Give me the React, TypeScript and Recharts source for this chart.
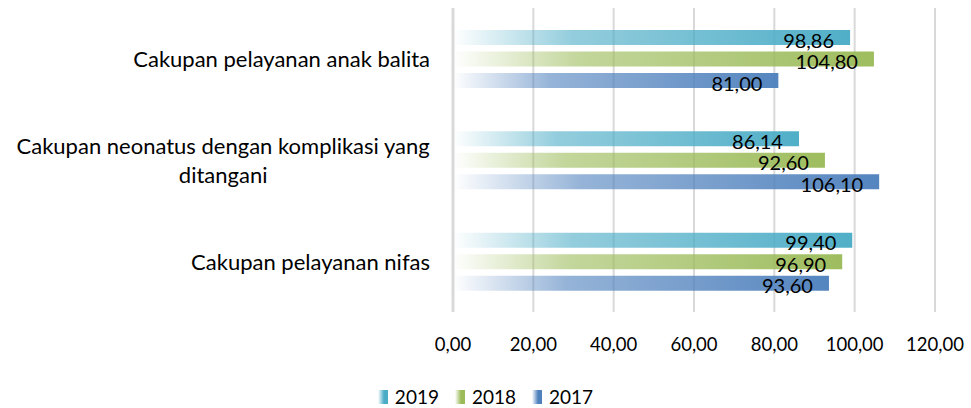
import React from 'react';
import { BarChart, Bar, XAxis, YAxis, CartesianGrid, LabelList } from 'recharts';

const categories = [
  'Cakupan pelayanan anak balita',
  'Cakupan neonatus dengan komplikasi yang ditangani',
  'Cakupan pelayanan nifas',
];
const categoryLines = [
  ['Cakupan pelayanan anak balita'],
  ['Cakupan neonatus dengan komplikasi yang', 'ditangani'],
  ['Cakupan pelayanan nifas'],
];
const values2019 = [98.86, 86.14, 99.4];
const values2018 = [104.8, 92.6, 96.9];
const values2017 = [81.0, 106.1, 93.6];
const xTicks = [0, 20, 40, 60, 80, 100, 120];
const seriesNames = ['2019', '2018', '2017'];
const seriesColors = ['#4bacc6', '#9bbb59', '#4f81bd'];

const data = categories.map((c, i) => ({
  name: c,
  y2019: values2019[i],
  y2018: values2018[i],
  y2017: values2017[i],
}));

const FONT = 'Lato, "Open Sans", sans-serif';
const FS = 18.5;
const CAT_FS = 22;
const LABEL_FS = 20;

const fmt = (v: number) => v.toFixed(2).replace('.', ',');

let ctx: CanvasRenderingContext2D | null = null;
const measure = (s: string) => {
  if (!ctx) {
    const c = document.createElement('canvas');
    ctx = c.getContext('2d');
  }
  if (!ctx) return s.length * 10;
  ctx.font = `${CAT_FS}px Lato`;
  return ctx.measureText(s).width;
};

const CatTick = (props: any) => {
  const { x, y, payload } = props;
  const idx = categories.indexOf(payload.value);
  const lines = idx >= 0 ? categoryLines[idx] : [String(payload.value)];
  const maxW = Math.max(...lines.map(measure));
  const lh = 29;
  const y0 = y - ((lines.length - 1) * lh) / 2;
  return (
    <g>
      {lines.map((l, i) => (
        <text
          key={i}
          x={x - maxW / 2}
          y={y0 + i * lh}
          textAnchor="middle"
          dominantBaseline="central"
          fontFamily={FONT}
          fontSize={CAT_FS}
          fill="#000"
        >
          {l}
        </text>
      ))}
    </g>
  );
};

const BarLabel = (props: any) => {
  const { x, y, width, height, value } = props;
  return (
    <text
      x={x + width - 16}
      y={y + height / 2 + 2}
      textAnchor="end"
      dominantBaseline="central"
      fontFamily={FONT}
      fontSize={LABEL_FS}
      fill="#000"
    >
      {fmt(value)}
    </text>
  );
};

const keys = ['y2019', 'y2018', 'y2017'];

export default function App() {
  return (
    <div style={{ position: 'absolute', left: 0, top: 0, width: 971, height: 408, background: '#fff' }}>
      <BarChart
        width={971}
        height={408}
        data={data}
        layout="vertical"
        margin={{ top: 8, right: 36, left: 0, bottom: 0 }}
        barSize={15}
        barGap={6.5}
      >
        <defs>
          {seriesColors.map((c, i) => (
            <linearGradient key={i} id={`grad${i}`} x1="0" y1="0" x2="1" y2="0">
              <stop offset="0" stopColor={c} stopOpacity={0} />
              <stop offset="0.3" stopColor={c} stopOpacity={0.6} />
              <stop offset="1" stopColor={c} stopOpacity={0.97} />
            </linearGradient>
          ))}
        </defs>
        <CartesianGrid horizontal={false} stroke="#d9d9d9" strokeWidth={2} />
        <XAxis
          type="number"
          domain={[0, 120]}
          ticks={xTicks}
          axisLine={false}
          tickLine={false}
          tickSize={0}
          tickMargin={26}
          height={96}
          tickFormatter={fmt}
          tick={{ fontFamily: FONT, fontSize: FS, fill: '#000' }}
          interval={0}
        />
        <YAxis
          type="category"
          dataKey="name"
          width={453}
          axisLine={{ stroke: '#d9d9d9', strokeWidth: 3 }}
          tickLine={false}
          tickSize={0}
          tickMargin={23}
          tick={<CatTick />}
          interval={0}
        />
        {keys.map((k, i) => (
          <Bar key={k} dataKey={k} name={seriesNames[i]} fill={`url(#grad${i})`} isAnimationActive={false}>
            <LabelList dataKey={k} content={<BarLabel />} />
          </Bar>
        ))}
      </BarChart>
      <div
        style={{
          position: 'absolute',
          left: 0,
          top: 386,
          width: 971,
          display: 'flex',
          justifyContent: 'center',
          alignItems: 'center',
          fontFamily: FONT,
          fontSize: 19,
          color: '#000',
          lineHeight: '22px',
        }}
      >
        {seriesNames.map((n, i) => (
          <div key={n} style={{ display: 'flex', alignItems: 'center', marginLeft: i === 0 ? 0 : 16 }}>
            <span
              style={{
                display: 'inline-block',
                width: 10,
                height: 14,
                marginRight: 7,
                background: `linear-gradient(to right, rgba(255,255,255,0.6), ${seriesColors[i]} 60%)`,
                backgroundColor: '#fff',
              }}
            />
            <span>{n}</span>
          </div>
        ))}
      </div>
    </div>
  );
}
